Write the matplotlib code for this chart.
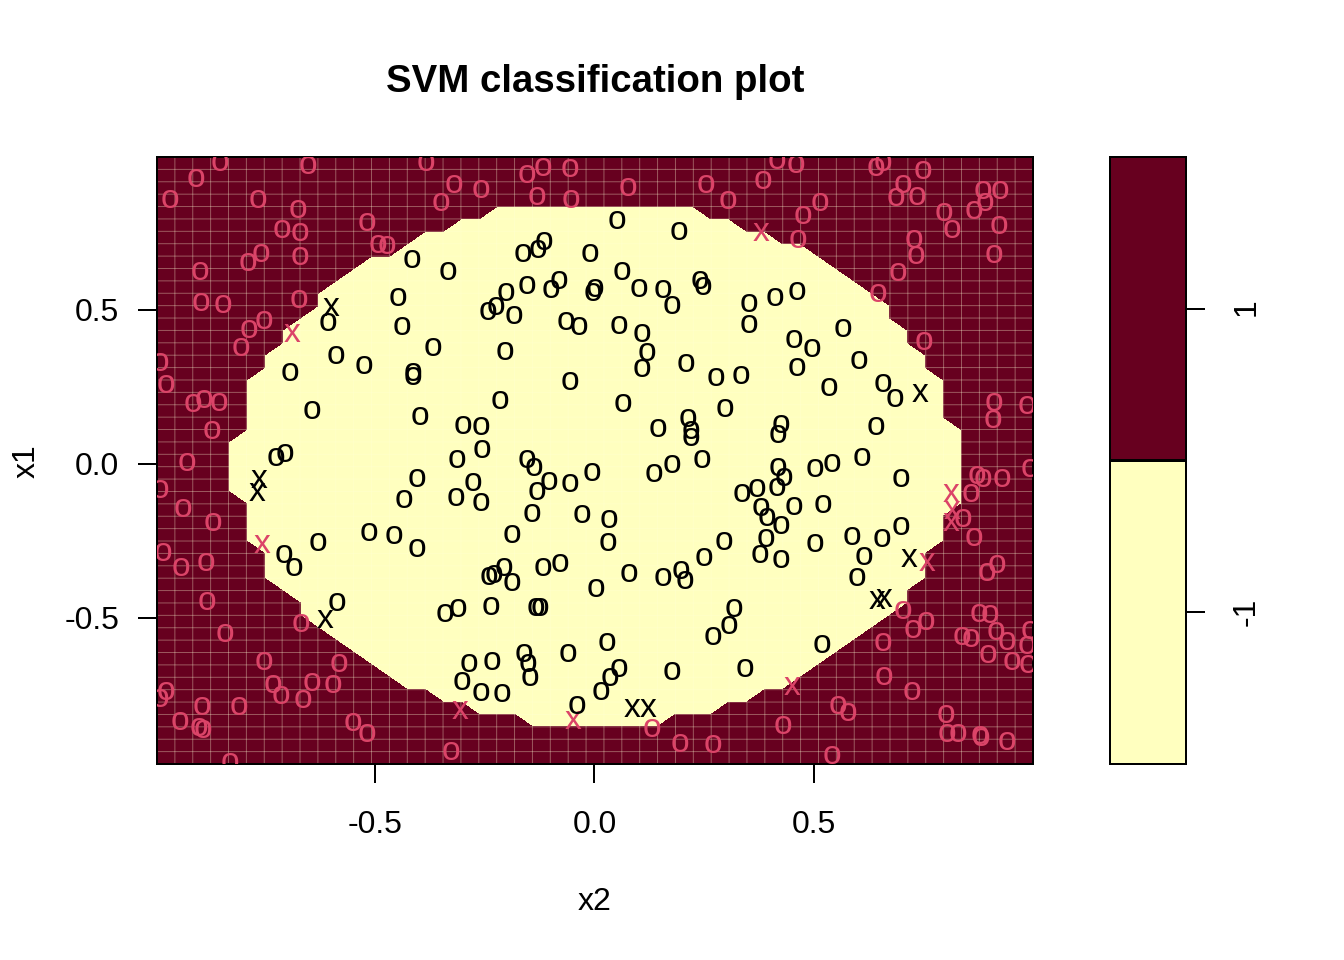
import numpy as np
import matplotlib
matplotlib.use("Agg")
import matplotlib.pyplot as plt
from matplotlib.transforms import ScaledTranslation

plt.rcParams['font.family'] = ['Liberation Sans', 'DejaVu Sans']

DARK = '#67001F'
LIGHT = '#FFFFBF'
RED = '#DB4468'

XLIM = (-0.9966, 0.9989)
YLIM = (-0.974, 0.9968)
N_GRID = 50

# decision grid: for each grid row (counted from the top) first / last column of class -1
first_row = 5
row_first = [19, 17, 15, 14, 12, 11, 10, 10, 9, 8, 8, 7, 7, 6, 6, 6, 6, 6, 5, 5, 5, 5, 5,
             6, 6, 6, 6, 7, 7, 7, 8, 9, 9, 10, 11, 12, 13, 14, 16, 18, 21]
row_last = [30, 32, 34, 36, 37, 38, 39, 40, 40, 41, 41, 42, 42, 43, 43, 43, 43, 44, 44, 44, 44, 44, 44,
            44, 43, 43, 43, 42, 42, 42, 41, 41, 40, 39, 38, 37, 36, 35, 33, 31, 28]

# class -1, not support vectors (black o)
o_black_x2 = [-0.416,-0.334,-0.448,-0.607,-0.439,-0.368,-0.589,-0.525,-0.413,-0.413,-0.694,-0.644,-0.397,-0.705,-0.726,
 0.051,0.192,-0.115,-0.129,-0.163,-0.010,0.063,-0.081,0.240,0.247,0.001,-0.003,0.101,0.156,-0.099,-0.154,-0.202,-0.224,-0.243,-0.183,
 0.177,-0.065,-0.035,0.056,0.108,0.120,0.108,-0.204,0.208,0.277,-0.056,-0.215,0.065,0.297,-0.300,-0.259,-0.256,0.145,0.213,0.220,0.220,0.334,
 0.352,0.352,0.411,0.461,0.454,0.495,0.566,0.461,0.603,0.534,0.657,0.685,0.641,0.425,0.418,
 -0.404,-0.434,-0.514,-0.457,-0.404,-0.630,-0.707,-0.685,-0.587,
 -0.313,-0.154,-0.138,-0.006,-0.104,-0.056,-0.131,-0.277,-0.315,-0.259,-0.142,-0.028,0.033,0.031,-0.188,0.136,0.177,0.245,0.295,0.249,
 0.079,0.197,0.206,0.156,0.003,-0.079,-0.117,-0.206,-0.229,-0.240,-0.188,-0.341,-0.311,-0.236,-0.133,-0.124,0.318,0.306,0.270,0.028,
 -0.161,-0.151,-0.147,-0.060,-0.233,-0.286,-0.302,-0.259,-0.211,0.056,0.035,0.015,-0.040,0.177,0.343,
 0.418,0.432,0.502,0.541,0.609,0.698,0.416,0.370,0.336,0.379,0.393,0.425,0.454,0.521,0.698,0.587,0.655,0.391,0.502,0.614,0.377,0.425,0.598,0.518]
o_black_x1 = [0.666,0.627,0.542,0.461,0.448,0.380,0.354,0.321,0.299,0.286,0.299,0.175,0.156,0.036,0.023,
 0.792,0.756,0.724,0.698,0.685,0.685,0.627,0.597,0.597,0.578,0.571,0.558,0.571,0.568,0.568,0.581,0.558,0.513,0.497,0.484,
 0.516,0.464,0.448,0.451,0.425,0.364,0.312,0.367,0.328,0.282,0.269,0.208,0.198,0.182,0.127,0.123,0.049,0.117,0.149,0.110,0.088,0.289,
 0.523,0.455,0.542,0.562,0.406,0.377,0.442,0.315,0.338,0.250,0.263,0.214,0.123,0.130,0.097,
 -0.045,-0.114,-0.221,-0.231,-0.273,-0.253,-0.292,-0.334,-0.448,
 0.016,0.016,-0.010,-0.026,-0.055,-0.062,-0.088,-0.058,-0.107,-0.123,-0.159,-0.162,-0.179,-0.253,-0.227,-0.029,0.000,0.016,-0.250,-0.302,
 -0.354,-0.344,-0.377,-0.367,-0.403,-0.321,-0.334,-0.334,-0.357,-0.364,-0.383,-0.484,-0.468,-0.461,-0.464,-0.464,-0.468,-0.523,-0.558,-0.578,
 -0.614,-0.646,-0.692,-0.614,-0.640,-0.646,-0.705,-0.740,-0.744,-0.662,-0.692,-0.737,-0.782,-0.672,-0.662,
 -0.010,-0.042,-0.013,0.003,0.023,-0.045,-0.075,-0.078,-0.094,-0.140,-0.172,-0.198,-0.136,-0.130,-0.201,-0.234,-0.240,-0.240,-0.256,-0.299,-0.292,-0.308,-0.367,-0.584]

# class -1, support vectors (black x)
x_black_x2 = [-0.600,-0.764,-0.769,-0.614,0.085,0.122,0.741,0.716,0.644,0.659]
x_black_x1 = [0.510,-0.049,-0.091,-0.503,-0.792,-0.792,0.231,-0.305,-0.442,-0.435]

# class 1, not support vectors (red o)
o_red_x2 = [-0.853,-0.908,-0.967,-0.767,-0.653,-0.675,-0.350,-0.384,-0.320,-0.518,-0.712,-0.671,-0.789,-0.760,-0.671,-0.493,-0.473,
 -0.899,-0.896,-0.846,-0.673,-0.753,-0.787,-0.805,-0.990,-0.976,-0.915,-0.890,-0.855,-0.871,-0.928,
 -0.259,-0.154,-0.117,-0.056,-0.131,-0.054,0.076,0.254,0.304,0.416,0.459,0.384,0.514,0.475,0.464,0.641,0.657,0.748,0.703,0.687,0.735,
 0.796,0.814,0.864,0.890,0.885,0.924,0.921,0.728,0.732,0.691,0.910,0.646,0.751,0.910,0.908,0.985,
 -0.990,-0.937,-0.869,-0.983,-0.942,-0.885,-0.883,-0.842,-0.669,-0.753,-0.582,-0.732,-0.714,-0.644,-0.596,-0.664,-0.976,-0.990,
 -0.894,-0.810,-0.944,-0.901,-0.892,-0.550,-0.518,-0.830,-0.327,0.131,0.195,0.270,0.429,0.541,0.555,0.577,0.659,0.723,0.657,0.703,0.726,0.755,
 0.801,0.803,0.828,0.878,0.880,0.940,0.837,0.858,0.896,0.951,0.876,0.901,0.915,0.940,0.992,0.985,0.987,0.894,0.917,0.864,0.839,0.858,0.871,0.885,0.928,0.992]
o_red_x1 = [0.981,0.929,0.860,0.860,0.971,0.828,0.851,0.981,0.909,0.786,0.763,0.753,0.656,0.685,0.675,0.714,0.711,
 0.627,0.526,0.519,0.536,0.468,0.438,0.380,0.331,0.260,0.198,0.211,0.201,0.110,0.006,
 0.893,0.942,0.964,0.961,0.870,0.860,0.899,0.909,0.857,0.987,0.974,0.922,0.851,0.808,0.731,0.964,0.981,0.955,0.909,0.867,0.870,
 0.818,0.763,0.825,0.851,0.890,0.890,0.776,0.731,0.679,0.623,0.682,0.555,0.399,0.201,0.146,0.192,
 -0.081,-0.143,-0.188,-0.286,-0.334,-0.318,-0.445,-0.549,-0.516,-0.640,-0.646,-0.714,-0.750,-0.708,-0.714,-0.763,-0.737,-0.760,
 -0.786,-0.786,-0.834,-0.854,-0.860,-0.838,-0.873,-0.968,-0.932,-0.857,-0.906,-0.909,-0.847,-0.945,-0.782,-0.805,-0.688,-0.737,-0.578,-0.474,-0.536,-0.510,
 -0.812,-0.873,-0.873,-0.880,-0.886,-0.899,-0.558,-0.565,-0.617,-0.640,-0.484,-0.487,-0.542,-0.575,-0.539,-0.588,-0.649,-0.351,-0.325,-0.237,-0.175,-0.094,-0.036,-0.045,-0.045,-0.013]

# class 1, support vectors (red x)
x_red_x2 = [-0.689,-0.757,-0.306,-0.049,0.379,0.450,0.812,0.814,0.812,0.757]
x_red_x1 = [0.425,-0.260,-0.799,-0.831,0.753,-0.721,-0.094,-0.149,-0.188,-0.318]

x_ticks = [-0.5, 0.0, 0.5]
y_ticks = [-0.5, 0.0, 0.5]
key_classes = ['-1', '1']

W, H = 1344, 960
fig = plt.figure(figsize=(W / 192, H / 192), dpi=192)
ax = fig.add_axes([157 / W, 1 - 764 / H, 876 / W, 607 / H])

grid_x = np.linspace(XLIM[0], XLIM[1], N_GRID)
grid_y = np.linspace(YLIM[1], YLIM[0], N_GRID)
Z = np.full((N_GRID, N_GRID), 2.0)
for i, (a, b) in enumerate(zip(row_first, row_last)):
    Z[first_row + i, a:b + 1] = 1.0
ax.contourf(grid_x, grid_y, Z, levels=[0.999, 1.999, 3.0], colors=[LIGHT, DARK], zorder=1)
seam_v = ax.vlines(grid_x, YLIM[0], YLIM[1], color='#FFFFD4', alpha=0.36, lw=0.36, zorder=2)
seam_h = ax.hlines(grid_y, XLIM[0], XLIM[1], color='#FFFFD4', alpha=0.36, lw=0.36, zorder=2)
seam_v.set_snap(False)
seam_h.set_snap(False)


def put(xs, ys, ch, col):
    for px, py in zip(xs, ys):
        ax.annotate(ch, (px, py), xytext=(0, -3.5), textcoords='offset points',
                    ha='center', va='baseline', fontsize=12.6, color=col,
                    clip_on=True, zorder=3)


put(o_red_x2, o_red_x1, 'o', RED)
put(x_red_x2, x_red_x1, 'x', RED)
put(o_black_x2, o_black_x1, 'o', 'black')
put(x_black_x2, x_black_x1, 'x', 'black')

ax.set_xlim(*XLIM)
ax.set_ylim(*YLIM)
ax.set_xticks(x_ticks)
ax.set_xticklabels([f'{v:.1f}' for v in x_ticks])
ax.set_yticks(y_ticks)
ax.set_yticklabels([f'{v:.1f}' for v in y_ticks])
ax.tick_params(axis='both', length=7.1, width=0.75, labelsize=12)
ax.tick_params(axis='x', pad=10)
ax.tick_params(axis='y', pad=7)
up = ScaledTranslation(0, 1 / 192, fig.dpi_scale_trans)
for lab in ax.get_yticklabels():
    lab.set_transform(lab.get_transform() + up)
for s in ax.spines.values():
    s.set_linewidth(0.75)

key = fig.add_axes([1110 / W, 1 - 764 / H, 76 / W, 607 / H])
key.bar([0.5, 0.5], [1, 1], width=1, bottom=[0, 1], color=[LIGHT, DARK], edgecolor='black', linewidth=0.75)
key.set_xlim(0, 1)
key.set_ylim(0, 2)
key.set_xticks([])
key.set_yticks([0.5, 1.5])
key.set_yticklabels(key_classes, rotation=90, va='center')
key.yaxis.tick_right()
key.tick_params(axis='y', length=7.1, width=0.75, labelsize=12, pad=10)
key_labels = key.get_yticklabels()
key_labels[1].set_transform(key_labels[1].get_transform() + ScaledTranslation(0, 2 / 192, fig.dpi_scale_trans))
for s in key.spines.values():
    s.set_linewidth(0.75)

fig.text(595 / W, 1 - 82 / H, 'SVM classification plot', ha='center', va='center',
         fontsize=14.4, fontweight='bold')
fig.text(595 / W, 1 - 902 / H, 'x2', ha='center', va='center', fontsize=12)
fig.text(27 / W, 1 - 461 / H, 'x1', ha='center', va='center', rotation=90, fontsize=12)

fig.savefig('out.png', dpi=192)
